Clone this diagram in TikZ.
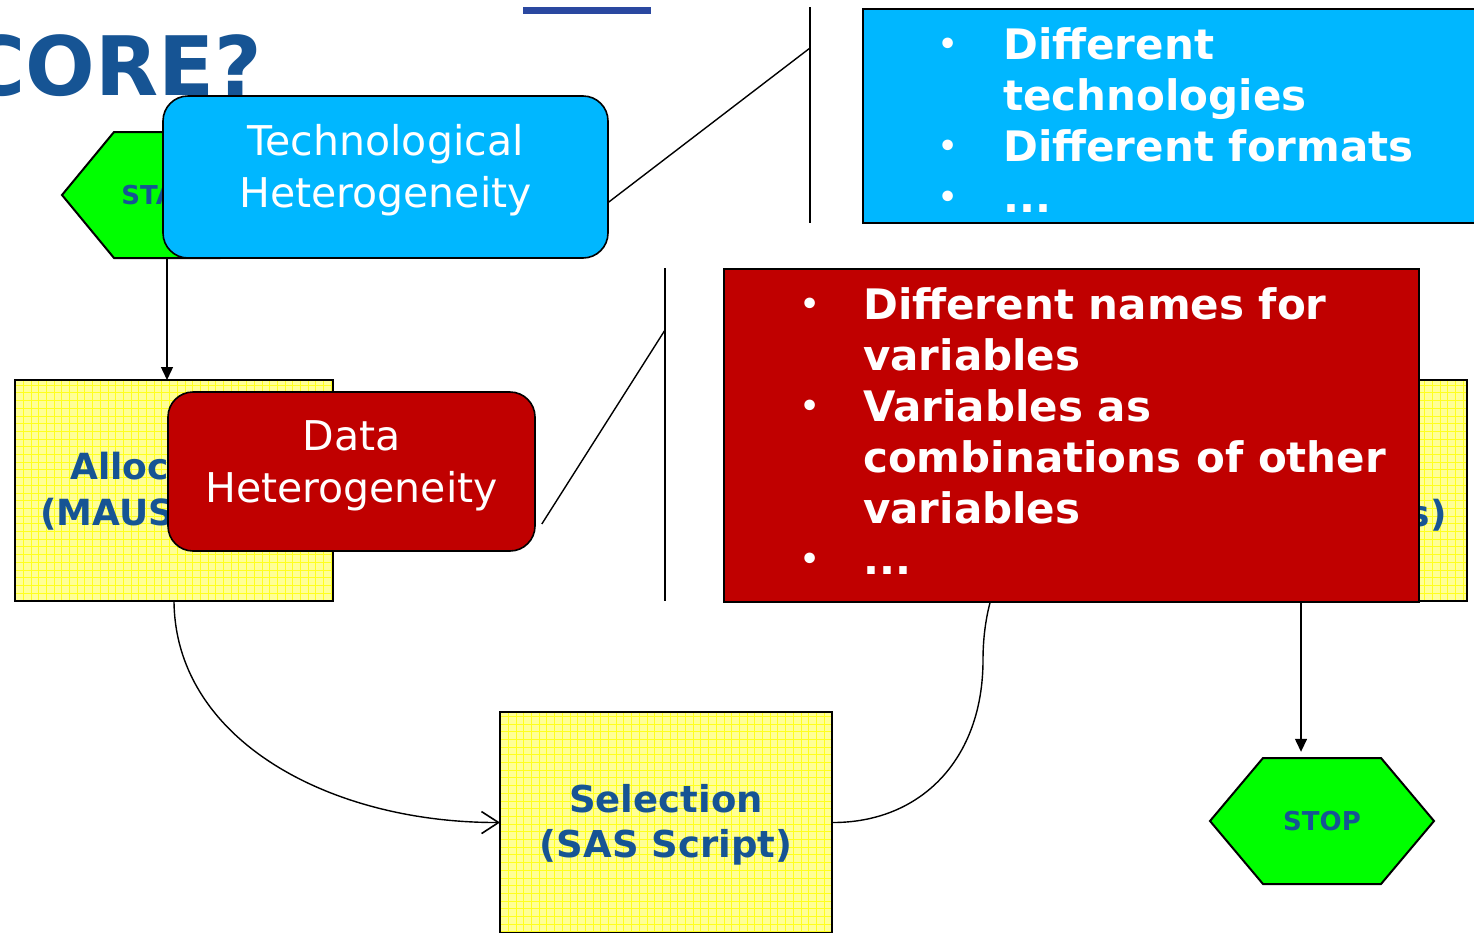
\documentclass[tikz,border=0pt]{standalone}
\usepackage{fontspec}
\setmainfont{DejaVu Sans}
\usetikzlibrary{arrows.meta,calc}

\definecolor{titleblue}{RGB}{22,84,148}
\definecolor{barblue}{RGB}{42,72,160}
\definecolor{hexgreen}{RGB}{0,255,0}
\definecolor{techcyan}{RGB}{0,183,255}
\definecolor{datared}{RGB}{192,0,0}
\definecolor{padyellow}{RGB}{255,255,150}
\definecolor{gridyellow}{RGB}{255,255,30}

% bullet followed by the indent of a list item
\newcommand\bulletmark[1]{\makebox[#1][l]{\hspace*{-2pt}\raisebox{5pt}{\fontsize{30}{30}\selectfont •}}}

% yellow squared-paper fill with a black frame for a process node
\newcommand\padfill[1]{%
  \fill[padyellow] (#1.south west) rectangle (#1.north east);
  \begin{scope}
    \clip (#1.south west) rectangle (#1.north east);
    \draw[gridline] (#1.south west) grid (#1.north east);
  \end{scope}
  \draw[boxline] (#1.south west) rectangle (#1.north east);
}

\begin{document}
\begin{tikzpicture}[x=1pt,y=-1pt,
  boxline/.style={draw=black, line width=1.3pt},
  gridline/.style={draw=gridyellow, line width=0.6pt, step=7.7pt},
  procbox/.style={inner sep=0pt, outer sep=0pt},
  proctext/.style={text=titleblue, font=\bfseries\fontsize{36}{46}\selectfont, align=center, inner sep=0pt},
  hexshape/.style={fill=hexgreen, draw=black, line width=2pt, line join=miter},
  hexlabel/.style={text=titleblue, font=\bfseries\fontsize{26}{26}\selectfont, inner sep=0pt},
  flow/.style={draw=black, line width=1.4pt},
  filledtip/.style={flow, -{Triangle[length=13pt,width=12pt]}},
  opentip/.style={flow, -{Straight Barb[length=17pt,width=22pt,line width=1.6pt]}},
  callout/.style={rounded corners=25pt, draw=black, line width=1.6pt, inner sep=0pt},
  callouttext/.style={text=white, font=\fontsize{41}{52}\selectfont, align=center, inner sep=0pt},
  accent/.style={draw=black, line width=2.4pt},
  notebox/.style={draw=black, line width=2pt, inner sep=0pt, anchor=north west},
  notetext/.style={text=white, font=\bfseries\fontsize{42}{51}\selectfont, align=left, inner sep=0pt, anchor=north west},
]
\clip (0,0) rectangle (1474,932);
\fill[white] (0,0) rectangle (1474,932);

% heading and rule
\fill[barblue] (523,7) rectangle (651,14);
\node[anchor=base east, text=titleblue, font=\bfseries\fontsize{82}{82}\selectfont, inner sep=0pt] (title) at (262,95) {CORE?};

% start terminal
\coordinate (startc) at (167,195);
\filldraw[hexshape] ($(startc)+(-105,0)$) -- ++(52,-63) -- ++(106,0) -- ++(52,63) -- ++(-52,63) -- ++(-106,0) -- cycle;
\node[hexlabel, minimum width=210pt, minimum height=126pt] (start) at (startc) {START};

% process steps
\node[procbox, minimum width=318pt, minimum height=221pt] (alloc) at (174,490.5) {};
\padfill{alloc}
\node[proctext, anchor=west, align=left] (alloclabel) at (40,491) {\hspace*{30pt}Allocation\\(MAUSS)};

\node[procbox, minimum width=332pt, minimum height=221pt] (rbox) at (1301,490.5) {};
\padfill{rbox}
\node[proctext, anchor=east] (rboxlabel) at (1447,515) {s)};

\node[procbox, minimum width=332pt, minimum height=221pt] (sel) at (666,822.5) {};
\padfill{sel}
\node[proctext, align=center, font=\bfseries\fontsize{37}{45}\selectfont] (sellabel) at (666,825) {Selection\\(SAS Script)};

% stop terminal
\coordinate (stopc) at (1322,821);
\filldraw[hexshape] ($(stopc)+(-112,0)$) -- ++(53,-63) -- ++(118,0) -- ++(53,63) -- ++(-53,63) -- ++(-118,0) -- cycle;
\node[hexlabel, minimum width=224pt, minimum height=126pt] (stop) at (stopc) {STOP};

% flow connectors
\draw[filledtip] (start.south) -- (start.south |- alloc.north);
\draw[opentip] (alloc.south) .. controls (175,740) and (330,823) .. (sel.west);
\draw[opentip] (sel.east) .. controls (920,823) and (983,760) .. (983,660)
  .. controls (983,560) and (1040,490) .. (rbox.west);
\draw[filledtip, shorten >=6pt] (rbox.south) -- (rbox.south |- stop.north);

% technological heterogeneity callout
\node[callout, fill=techcyan, minimum width=445pt, minimum height=162pt] (tech) at (385.5,177) {};
\node[callouttext] (techlabel) at (385.5,170) {Technological\\Heterogeneity};
\coordinate (techtail) at ($(tech.east)+(0,25)$);
\coordinate (techbartop) at (810,7);
\coordinate (techbarbot) at (810,223);
\coordinate (techhook) at (810,48);
\draw[accent] (techbartop) -- (techbarbot);
\draw[flow] (techtail) -- (techhook);
\node[notebox, fill=techcyan, minimum width=620pt, minimum height=214pt] (technote) at (862,8) {};
\node[notetext] (technotes) at (940,27) {\bulletmark{63pt}Different\\
  \hspace*{63pt}technologies\\
  \bulletmark{63pt}Different formats\\
  \bulletmark{63pt}...};

% data heterogeneity callout
\node[callout, fill=datared, minimum width=367pt, minimum height=159pt] (data) at (351.5,471.5) {};
\node[callouttext] (datalabel) at (351.5,466) {Data\\Heterogeneity};
\coordinate (datatail) at ($(data.east)+(6,52.5)$);
\coordinate (databartop) at (665,268);
\coordinate (databarbot) at (665,601);
\coordinate (datahook) at (665,330);
\draw[accent] (databartop) -- (databarbot);
\draw[flow] (datatail) -- (datahook);
\node[notebox, fill=datared, minimum width=695pt, minimum height=333pt] (datanote) at (723,268) {};
\node[notetext] (datanotes) at (802,287) {\bulletmark{61pt}Different names for\\
  \hspace*{61pt}variables\\
  \bulletmark{61pt}Variables as\\
  \hspace*{61pt}combinations of other\\
  \hspace*{61pt}variables\\
  \bulletmark{61pt}...};
\end{tikzpicture}
\end{document}
